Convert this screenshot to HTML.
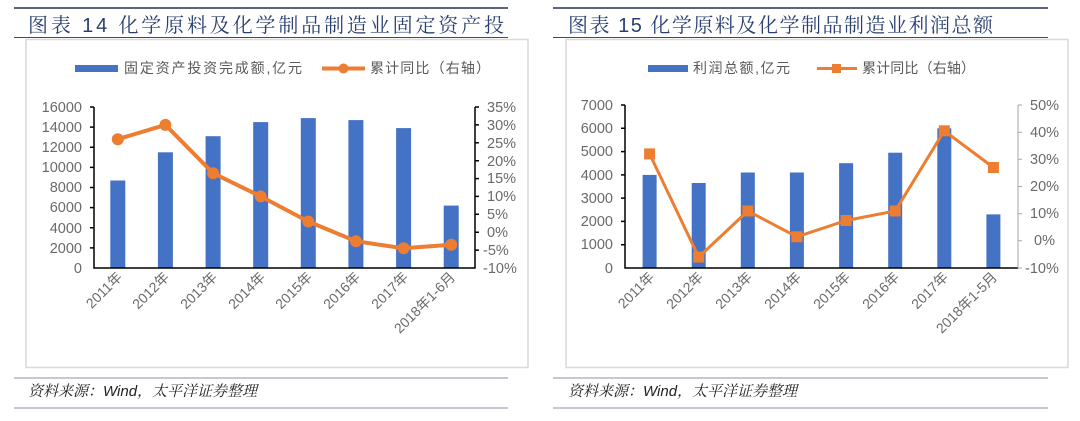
<!DOCTYPE html>
<html><head><meta charset="utf-8"><style>
html,body{margin:0;padding:0;background:#fff;}
svg{display:block;}
.t{font-family:"Liberation Sans","Noto Serif CJK SC",serif;font-size:20px;fill:#2a3f70;}
.ax{font-family:"Liberation Sans","Noto Sans CJK SC",sans-serif;font-size:14.5px;fill:#6a6a6a;}
.xl{font-family:"Liberation Sans","Noto Sans CJK SC",sans-serif;font-size:14px;fill:#6a6a6a;}
.lg{font-family:"Liberation Sans","Noto Sans CJK SC",sans-serif;font-size:14px;fill:#595959;}
.src{font-family:"Liberation Sans","Noto Serif CJK SC",serif;font-size:15px;font-style:italic;fill:#222;}
</style></head><body>
<svg width="1080" height="421" viewBox="0 0 1080 421" xmlns="http://www.w3.org/2000/svg">
<!-- LEFT PANEL -->
<line x1="14" y1="8" x2="508" y2="8" stroke="#5b6381" stroke-width="2"/>
<text class="t" x="28" y="32" textLength="476" lengthAdjust="spacing">图表 14 化学原料及化学制品制造业固定资产投</text>
<line x1="14" y1="37.5" x2="508" y2="37.5" stroke="#3a4a6a" stroke-width="1"/>
<rect x="26" y="39.5" width="502" height="328" fill="#fff" stroke="#d9d9d9" stroke-width="1.5"/>
<rect x="75" y="65" width="43" height="7" fill="#4472c4"/>
<text class="lg" x="124" y="73" textLength="178">固定资产投资完成额,亿元</text>
<line x1="322" y1="68.5" x2="365" y2="68.5" stroke="#ed7d31" stroke-width="4"/>
<circle cx="343.5" cy="68.5" r="5" fill="#ed7d31"/>
<text class="lg" x="370" y="73" textLength="120">累计同比（右轴）</text>
<g class="ax" text-anchor="end">
<text x="82" y="112">16000</text><text x="82" y="132">14000</text><text x="82" y="152">12000</text><text x="82" y="172">10000</text><text x="82" y="192">8000</text><text x="82" y="212">6000</text><text x="82" y="233">4000</text><text x="82" y="253">2000</text><text x="82" y="273">0</text>
</g>
<g class="ax">
<text x="487" y="112">35%</text><text x="487" y="130">30%</text><text x="487" y="148">25%</text><text x="487" y="166">20%</text><text x="487" y="183">15%</text><text x="487" y="201">10%</text><text x="487" y="219">5%</text><text x="487" y="237">0%</text><text x="483" y="255">-5%</text><text x="483" y="273">-10%</text>
</g>
<g fill="#4472c4">
<rect x="110.3" y="180.5" width="15" height="87.5"/><rect x="157.9" y="152.3" width="15" height="115.7"/><rect x="205.6" y="136.2" width="15" height="131.8"/><rect x="253.2" y="122.1" width="15" height="145.9"/><rect x="300.8" y="118.1" width="15" height="149.9"/><rect x="348.4" y="120.1" width="15" height="147.9"/><rect x="396.1" y="128.1" width="15" height="139.9"/><rect x="443.7" y="205.6" width="15" height="62.4"/>
</g>
<path d="M94 107V268H475V107 M94 107h-4 M94 127.1h-4 M94 147.3h-4 M94 167.4h-4 M94 187.5h-4 M94 207.6h-4 M94 227.8h-4 M94 247.9h-4 M475 107h4 M475 124.9h4 M475 142.8h4 M475 160.7h4 M475 178.6h4 M475 196.4h4 M475 214.3h4 M475 232.2h4 M475 250.1h4" stroke="#000" stroke-width="1.5" fill="none"/>
<polyline points="117.8,139.2 165.4,124.9 213.1,173.2 260.7,196.4 308.3,221.5 355.9,241.2 403.6,248.3 451.2,244.8" fill="none" stroke="#ed7d31" stroke-width="4" stroke-linejoin="round"/>
<g fill="#ed7d31">
<circle cx="117.8" cy="139.2" r="6"/><circle cx="165.4" cy="124.9" r="6"/><circle cx="213.1" cy="173.2" r="6"/><circle cx="260.7" cy="196.4" r="6"/><circle cx="308.3" cy="221.5" r="6"/><circle cx="355.9" cy="241.2" r="6"/><circle cx="403.6" cy="248.3" r="6"/><circle cx="451.2" cy="244.8" r="6"/>
</g>
<g class="xl" text-anchor="end">
<text transform="translate(123,278) rotate(-45)">2011年</text>
<text transform="translate(170,278) rotate(-45)">2012年</text>
<text transform="translate(218,278) rotate(-45)">2013年</text>
<text transform="translate(266,278) rotate(-45)">2014年</text>
<text transform="translate(313,278) rotate(-45)">2015年</text>
<text transform="translate(361,278) rotate(-45)">2016年</text>
<text transform="translate(409,278) rotate(-45)">2017年</text>
<text transform="translate(456,278) rotate(-45)">2018年1-6月</text>
</g>
<line x1="14" y1="378" x2="508" y2="378" stroke="#8a8fa8" stroke-width="1"/>
<text class="src" x="28" y="396">资料来源：Wind，太平洋证券整理</text>
<line x1="14" y1="408" x2="508" y2="408" stroke="#8a8fa8" stroke-width="1"/>

<!-- RIGHT PANEL -->
<line x1="553" y1="8" x2="1048" y2="8" stroke="#5b6381" stroke-width="2"/>
<text class="t" x="568" y="32" textLength="425" lengthAdjust="spacing">图表 15 化学原料及化学制品制造业利润总额</text>
<line x1="553" y1="37.5" x2="1048" y2="37.5" stroke="#3a4a6a" stroke-width="1"/>
<rect x="566" y="39.5" width="502" height="328" fill="#fff" stroke="#d9d9d9" stroke-width="1.5"/>
<rect x="648" y="65" width="40" height="7" fill="#4472c4"/>
<text class="lg" x="693" y="73" textLength="97">利润总额,亿元</text>
<line x1="817" y1="68.5" x2="857" y2="68.5" stroke="#ed7d31" stroke-width="3"/>
<rect x="832" y="64" width="9" height="9" fill="#ed7d31"/>
<text class="lg" x="862" y="73" textLength="113">累计同比（右轴）</text>
<g class="ax" text-anchor="end">
<text x="613" y="110">7000</text><text x="613" y="133">6000</text><text x="613" y="156">5000</text><text x="613" y="180">4000</text><text x="613" y="203">3000</text><text x="613" y="226">2000</text><text x="613" y="249">1000</text><text x="613" y="273">0</text>
</g>
<g class="ax">
<text x="1030" y="110">50%</text><text x="1030" y="137">40%</text><text x="1030" y="164">30%</text><text x="1030" y="191">20%</text><text x="1030" y="218">10%</text><text x="1034" y="245">0%</text><text x="1025" y="273">-10%</text>
</g>
<g fill="#4472c4">
<rect x="642.6" y="174.9" width="14" height="93.1"/><rect x="691.7" y="183" width="14" height="85"/><rect x="740.8" y="172.5" width="14" height="95.5"/><rect x="789.9" y="172.5" width="14" height="95.5"/><rect x="839.1" y="163.2" width="14" height="104.8"/><rect x="888.2" y="152.7" width="14" height="115.3"/><rect x="937.3" y="128.3" width="14" height="139.7"/><rect x="986.4" y="214.4" width="14" height="53.6"/>
</g>
<path d="M625 105V268H1018 M625 105h-4 M625 128.3h-4 M625 151.6h-4 M625 174.9h-4 M625 198.1h-4 M625 221.4h-4 M625 244.7h-4" stroke="#000" stroke-width="1.5" fill="none"/>
<path d="M1018 105V268 M1018 105h4 M1018 132.2h4 M1018 159.3h4 M1018 186.5h4 M1018 213.7h4 M1018 240.8h4 M1018 268h4" stroke="#a6a6a6" stroke-width="1" fill="none"/>
<polyline points="649.6,153.9 698.7,257.1 747.8,211 796.9,236.8 846.1,220.5 895.2,211 944.3,130.8 993.4,167.5" fill="none" stroke="#ed7d31" stroke-width="3" stroke-linejoin="round"/>
<g fill="#ed7d31">
<rect x="644.1" y="148.4" width="11" height="11"/><rect x="693.2" y="251.6" width="11" height="11"/><rect x="742.3" y="205.5" width="11" height="11"/><rect x="791.4" y="231.3" width="11" height="11"/><rect x="840.6" y="215" width="11" height="11"/><rect x="889.7" y="205.5" width="11" height="11"/><rect x="938.8" y="125.3" width="11" height="11"/><rect x="987.9" y="162" width="11" height="11"/>
</g>
<g class="xl" text-anchor="end">
<text transform="translate(655,278) rotate(-45)">2011年</text>
<text transform="translate(704,278) rotate(-45)">2012年</text>
<text transform="translate(753,278) rotate(-45)">2013年</text>
<text transform="translate(802,278) rotate(-45)">2014年</text>
<text transform="translate(851,278) rotate(-45)">2015年</text>
<text transform="translate(900,278) rotate(-45)">2016年</text>
<text transform="translate(949,278) rotate(-45)">2017年</text>
<text transform="translate(998,278) rotate(-45)">2018年1-5月</text>
</g>
<line x1="553" y1="378" x2="1048" y2="378" stroke="#8a8fa8" stroke-width="1"/>
<text class="src" x="568" y="396">资料来源：Wind，太平洋证券整理</text>
<line x1="553" y1="408" x2="1048" y2="408" stroke="#8a8fa8" stroke-width="1"/>
</svg>
</body></html>
